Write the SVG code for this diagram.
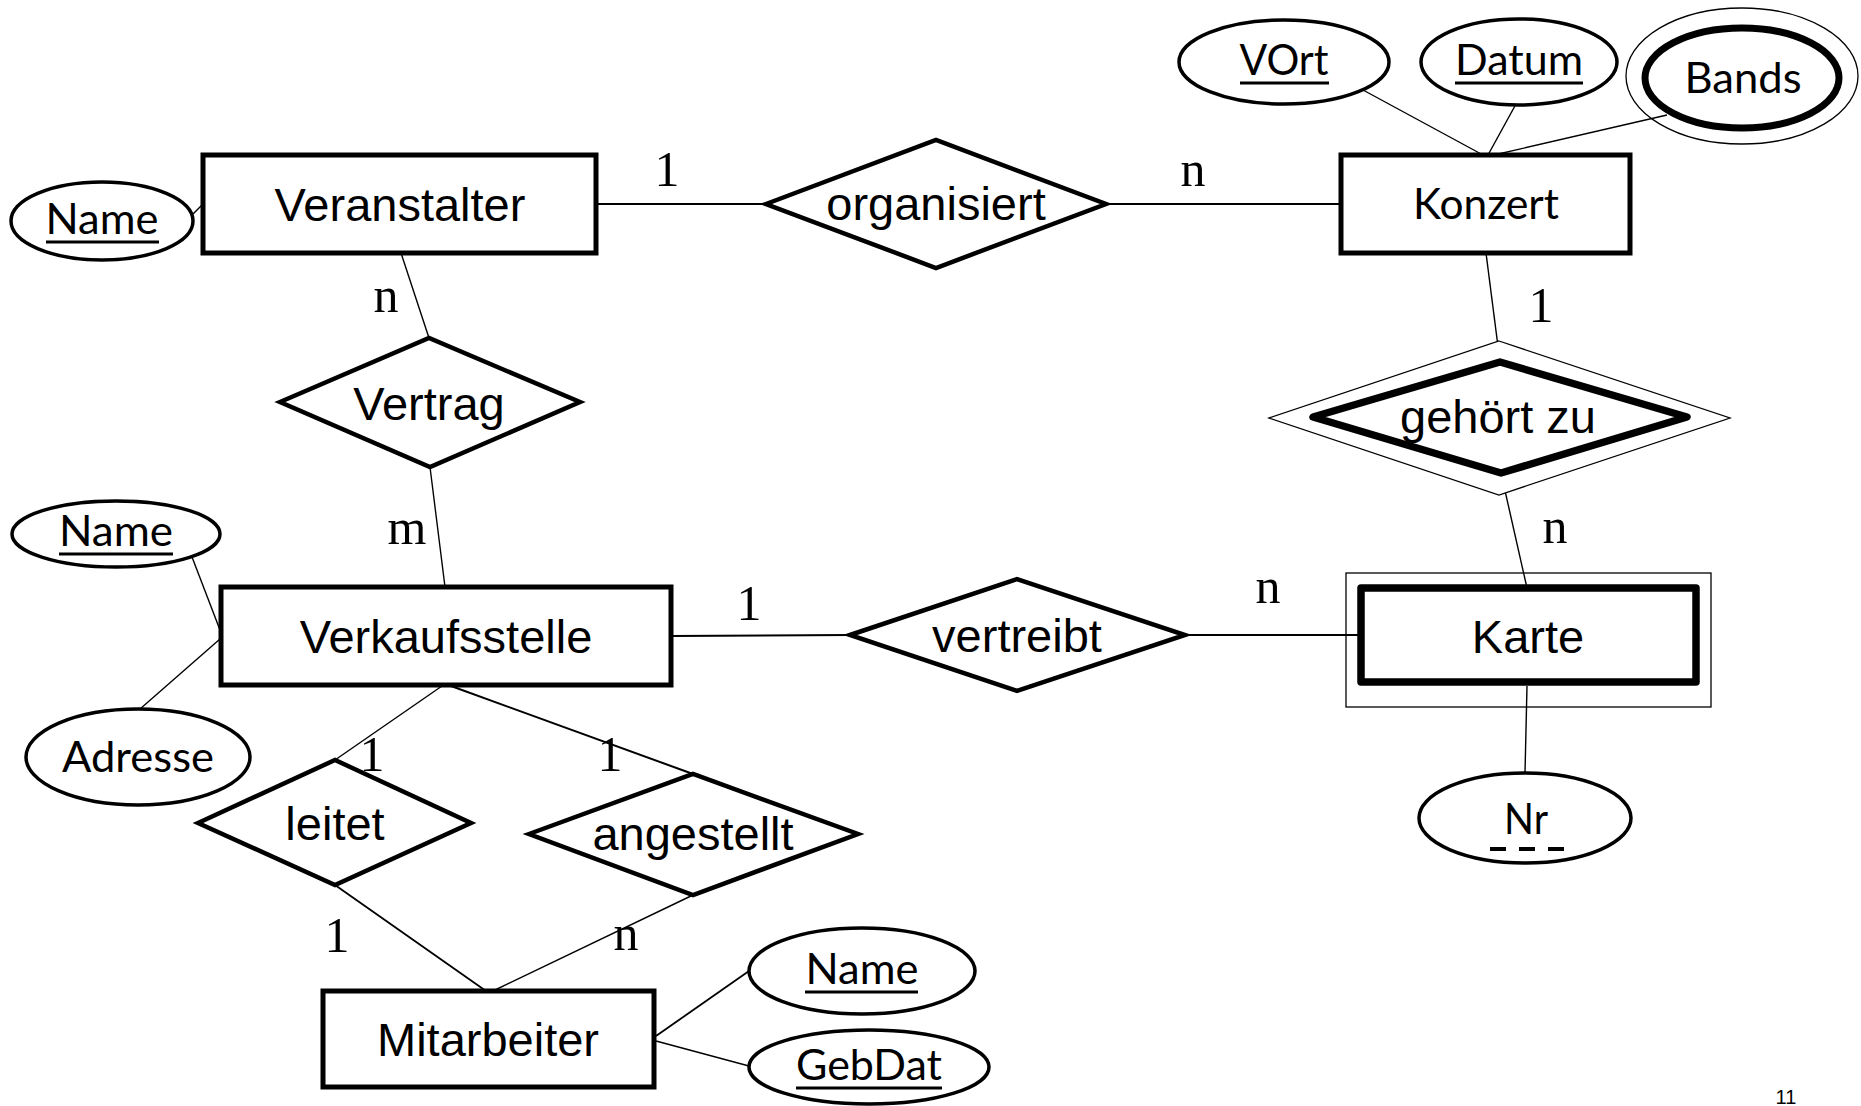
<svg xmlns="http://www.w3.org/2000/svg" width="1861" height="1106" viewBox="0 0 1861 1106">
<style>
.ent{fill:#fff;stroke:#000;stroke-width:5;stroke-linejoin:miter}
.rel{fill:#fff;stroke:#000;stroke-width:4.5;stroke-linejoin:miter}
.att{fill:#fff;stroke:#000;stroke-width:3.5}
.thin{fill:none;stroke:#000;stroke-width:1.3}
.weak{fill:#fff;stroke:#000;stroke-width:7.5;stroke-linejoin:round}
.con line{stroke:#000;stroke-width:1.4}
.ar{font-family:"Liberation Sans",Arial,sans-serif;font-size:47px;text-anchor:middle;fill:#000}
.ca{font-family:Lato,"Open Sans",sans-serif;font-size:42px;text-anchor:middle;fill:#000}
.card{font-family:"Liberation Serif","Times New Roman",serif;font-size:50px;text-anchor:middle;fill:#000}
.ul{stroke:#000;stroke-width:3}
</style>
<rect width="1861" height="1106" fill="#fff"/>
<g id="connectors" class="con">
<line x1="193" y1="214" x2="203" y2="204"/>
<line x1="596" y1="204" x2="766" y2="204" style="stroke-width:2"/>
<line x1="1106" y1="204" x2="1341" y2="204" style="stroke-width:2"/>
<line x1="1363" y1="90" x2="1483" y2="155"/>
<line x1="1516" y1="104" x2="1488" y2="155"/>
<line x1="1667" y1="115" x2="1494" y2="155"/>
<line x1="1486" y1="253" x2="1500" y2="362"/>
<line x1="1501" y1="473" x2="1527" y2="588"/>
<line x1="1527" y1="686" x2="1525" y2="773"/>
<line x1="671" y1="636" x2="850" y2="635" style="stroke-width:2"/>
<line x1="1185" y1="635" x2="1358" y2="635" style="stroke-width:2"/>
<line x1="401" y1="253" x2="429" y2="338"/>
<line x1="430" y1="467" x2="445" y2="587"/>
<line x1="192" y1="557" x2="220" y2="630"/>
<line x1="140" y1="709" x2="220" y2="639"/>
<line x1="442" y1="686" x2="335" y2="760"/>
<line x1="451" y1="686" x2="693" y2="774" style="stroke-width:2"/>
<line x1="335" y1="885" x2="486" y2="991" style="stroke-width:1.8"/>
<line x1="693" y1="895" x2="493" y2="991"/>
<line x1="656" y1="1036" x2="749" y2="971" style="stroke-width:1.8"/>
<line x1="656" y1="1041" x2="749" y2="1066"/>
</g>
<g id="labels">
<text class="card" x="667" y="186">1</text>
<text class="card" x="1193" y="186">n</text>
<text class="card" x="386" y="312">n</text>
<text class="card" x="407" y="544">m</text>
<text class="card" x="1541" y="322">1</text>
<text class="card" x="1555" y="543">n</text>
<text class="card" x="749" y="620">1</text>
<text class="card" x="1268" y="603">n</text>
<text class="card" x="372" y="771">1</text>
<text class="card" x="610" y="771">1</text>
<text class="card" x="337" y="952">1</text>
<text class="card" x="626" y="950">n</text>
</g>
<g id="veranstalter">
<rect class="ent" x="203" y="155" width="393" height="98"/>
<text class="ar" x="400" y="221">Veranstalter</text>
</g>
<g id="veranstalter-name">
<ellipse class="att" cx="102" cy="221" rx="91" ry="39"/>
<text class="ca" x="102" y="234" textLength="113" lengthAdjust="spacingAndGlyphs">Name</text>
<line class="ul" x1="46" y1="242" x2="159" y2="242"/>
</g>
<g id="organisiert">
<polygon class="rel" points="766,204 936,140 1106,204 936,268"/>
<text class="ar" x="936" y="220">organisiert</text>
</g>
<g id="konzert">
<rect class="ent" x="1341" y="155" width="289" height="98"/>
<text class="ca" x="1486" y="219" textLength="146" lengthAdjust="spacingAndGlyphs">Konzert</text>
</g>
<g id="vort">
<ellipse class="att" cx="1284" cy="62" rx="105" ry="42"/>
<text class="ca" x="1284" y="75" textLength="89" lengthAdjust="spacingAndGlyphs">VOrt</text>
<line class="ul" x1="1240" y1="83" x2="1329" y2="83"/>
</g>
<g id="datum">
<ellipse class="att" cx="1519" cy="62" rx="98" ry="43"/>
<text class="ca" x="1519" y="75" textLength="128" lengthAdjust="spacingAndGlyphs">Datum</text>
<line class="ul" x1="1455" y1="83" x2="1583" y2="83"/>
</g>
<g id="bands">
<ellipse class="thin" cx="1742" cy="76" rx="116" ry="68"/>
<ellipse cx="1742" cy="78" rx="97" ry="50" fill="#fff" stroke="#000" stroke-width="7"/>
<text class="ca" x="1743" y="93" textLength="117" lengthAdjust="spacingAndGlyphs">Bands</text>
</g>
<g id="gehoert-zu">
<polygon class="thin" points="1499,341 1730,418 1499,495 1269,418" style="fill:#fff"/>
<polygon class="weak" points="1500,362 1687,417 1501,473 1313,417"/>
<text class="ar" x="1498" y="433">gehört zu</text>
</g>
<g id="karte">
<rect class="thin" x="1346" y="573" width="365" height="134"/>
<rect class="weak" x="1361" y="588" width="335" height="94" style="stroke-linejoin:round"/>
<text class="ar" x="1528" y="653">Karte</text>
</g>
<g id="nr">
<ellipse class="att" cx="1525" cy="818" rx="106" ry="45"/>
<text class="ca" x="1526" y="834" textLength="44" lengthAdjust="spacingAndGlyphs">Nr</text>
<line x1="1490" y1="849" x2="1565" y2="849" stroke="#000" stroke-width="4" stroke-dasharray="16,13"/>
</g>
<g id="vertrag">
<polygon class="rel" points="280,402 429,338 580,402 430,467"/>
<text class="ar" x="429" y="420">Vertrag</text>
</g>
<g id="verkaufsstelle">
<rect class="ent" x="221" y="587" width="450" height="98"/>
<text class="ar" x="446" y="653">Verkaufsstelle</text>
</g>
<g id="verkaufsstelle-name">
<ellipse class="att" cx="116" cy="534" rx="104" ry="33"/>
<text class="ca" x="116" y="546" textLength="114" lengthAdjust="spacingAndGlyphs">Name</text>
<line class="ul" x1="59" y1="554" x2="173" y2="554"/>
</g>
<g id="adresse">
<ellipse class="att" cx="138" cy="757" rx="112" ry="48"/>
<text class="ca" x="138" y="772" textLength="152" lengthAdjust="spacingAndGlyphs">Adresse</text>
</g>
<g id="vertreibt">
<polygon class="rel" points="850,635 1017,579 1185,635 1017,691"/>
<text class="ar" x="1017" y="652">vertreibt</text>
</g>
<g id="leitet">
<polygon class="rel" points="198,823 335,760 471,823 335,885"/>
<text class="ar" x="335" y="840">leitet</text>
</g>
<g id="angestellt">
<polygon class="rel" points="529,834 693,774 858,834 693,895"/>
<text class="ar" x="693" y="850">angestellt</text>
</g>
<g id="mitarbeiter">
<rect class="ent" x="323" y="991" width="331" height="96"/>
<text class="ar" x="488" y="1056">Mitarbeiter</text>
</g>
<g id="mitarbeiter-name">
<ellipse class="att" cx="862" cy="971" rx="113" ry="43"/>
<text class="ca" x="862" y="984" textLength="113" lengthAdjust="spacingAndGlyphs">Name</text>
<line class="ul" x1="805" y1="992" x2="918" y2="992"/>
</g>
<g id="gebdat">
<ellipse class="att" cx="869" cy="1067" rx="120" ry="37"/>
<text class="ca" x="869" y="1080" textLength="146" lengthAdjust="spacingAndGlyphs">GebDat</text>
<line class="ul" x1="796" y1="1088" x2="942" y2="1088"/>
</g>
<text x="1786" y="1104" font-family="Liberation Sans,Arial,sans-serif" font-size="20" text-anchor="middle">11</text>
</svg>
